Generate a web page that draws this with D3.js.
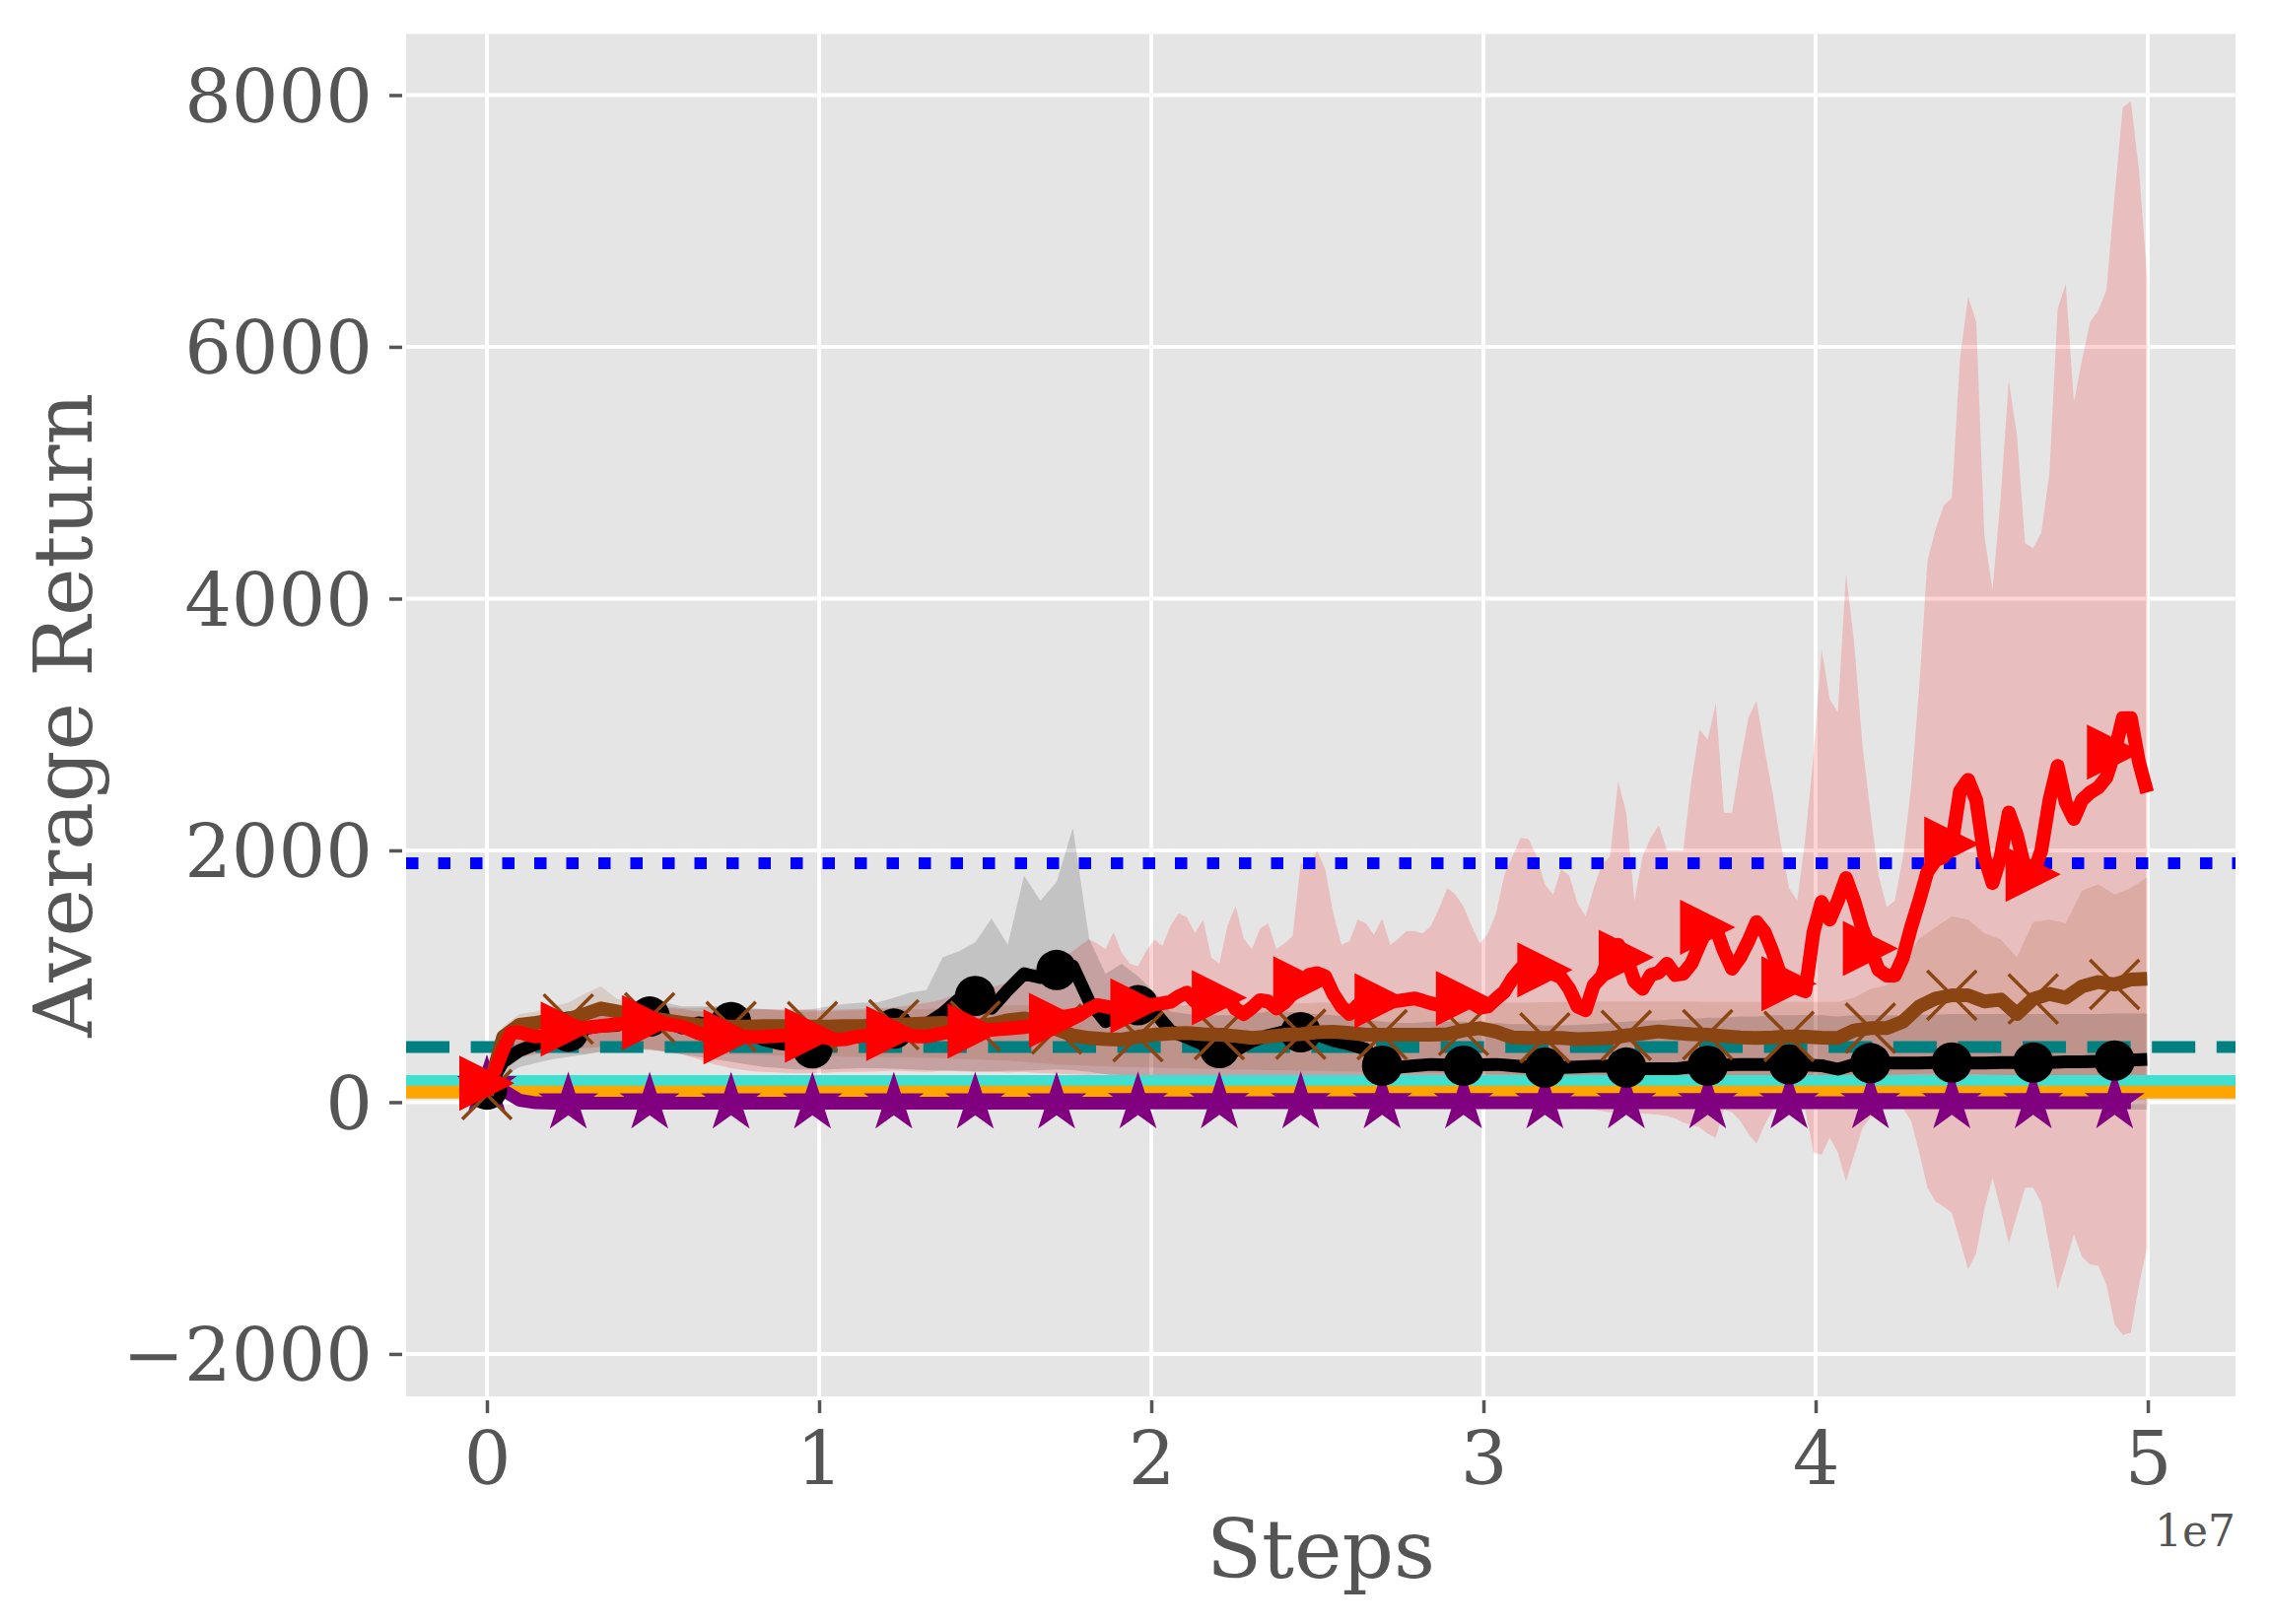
<!DOCTYPE html>
<html>
<head>
<meta charset="utf-8">
<title>Average Return vs Steps</title>
<style>
  body { margin: 0; background: #fff; }
</style>
</head>
<body>
<div class="chart"></div>
<script src="https://cdn.jsdelivr.net/npm/d3@7"></script>
<script>
// black / brown / purple logged every STEP steps (marker every 5 points),
// red logged twice as often (marker every 10 points)
var STEP = 490000;
var RED_STEP = 245000;

var xTicks = [0, 1e7, 2e7, 3e7, 4e7, 5e7];
var yTicks = [-2000, 0, 2000, 4000, 6000, 8000];

// constant reference returns (horizontal lines)
var baselineValues = [1898, 438, 171, 80];

var redMean = [150, 250, 420, 550, 555, 535, 522, 525, 545, 565,
  580, 588, 592, 598, 605, 612, 618, 625, 630, 635,
  632, 625, 620, 612, 600, 575, 548, 530, 525, 521,
  519, 519, 519, 519, 520, 524, 528, 532, 532, 532,
  532, 522, 508, 496, 500, 515, 525, 532, 538, 542,
  545, 540, 530, 522, 522, 535, 548, 558, 560, 562,
  565, 570, 575, 580, 585, 590, 597, 605, 620, 635,
  650, 680, 692, 700, 740, 771, 760, 748, 745, 755,
  765, 771, 775, 785, 797, 840, 870, 800, 745, 790,
  830, 840, 740, 700, 750, 810, 800, 745, 790, 860,
  940, 1010, 1025, 1000, 860, 760, 700, 770, 823, 815,
  805, 797, 805, 815, 823, 805, 785, 771, 790, 810,
  823, 790, 750, 760, 820, 875, 980, 1060, 1070, 1084,
  1050, 1020, 990, 900, 760, 730, 930, 1000, 1180, 1250,
  1150, 960, 900, 1010, 1030, 1100, 1010, 1020, 1100, 1250,
  1390, 1380, 1200, 1060, 1150, 1280, 1430, 1350, 1190, 1000,
  940, 905, 880, 1350, 1590, 1450, 1600, 1780, 1600, 1380,
  1220, 1050, 1006, 1006, 1150, 1390, 1600, 1830, 1920, 1950,
  2050, 2470, 2560, 2400, 1950, 1740, 1950, 2300, 2120, 1850,
  1810, 2000, 2400, 2670, 2380, 2250, 2400, 2460, 2500, 2580,
  2780, 3050, 3050, 2700, 2460];
var redUpper = [200, 380, 520, 600, 660, 670, 680, 690, 700, 710,
  720, 725, 730, 735, 740, 745, 750, 755, 760, 760,
  760, 755, 750, 745, 740, 730, 720, 715, 710, 715,
  720, 725, 730, 735, 738, 740, 740, 740, 738, 735,
  733, 730, 733, 735, 738, 740, 742, 745, 748, 750,
  755, 760, 770, 780, 790, 800, 820, 840, 860, 870,
  885, 900, 915, 930, 950, 980, 1010, 1050, 1100, 1150,
  1170, 1162, 1200, 1250, 1293, 1260, 1215, 1350, 1188, 1100,
  1080, 1200, 1293, 1241, 1400, 1500, 1470, 1345, 1450, 1150,
  1100, 1400, 1560, 1300, 1215, 1380, 1420, 1215, 1260, 1320,
  1900, 1860, 2000, 1850, 1500, 1250, 1280, 1450, 1420, 1330,
  1460, 1250, 1300, 1360, 1360, 1340, 1400, 1540, 1700, 1650,
  1554, 1400, 1260, 1340, 1500, 1800, 1950, 2100, 2090, 1950,
  1730, 1650, 1850, 1800, 1580, 1480, 1700, 1890, 1950, 2550,
  2300, 1600, 1950, 2100, 2200, 2000, 2000, 2000, 2550, 2960,
  2880, 3170, 2300, 2300, 2700, 3050, 3190, 2800, 2450, 2050,
  1700, 1600, 2100, 2750, 3600, 3200, 3100, 4200, 3650, 2850,
  2300, 1800, 1550, 1600, 1950, 2500, 3300, 4300, 4550, 4740,
  4800, 5900, 6400, 6200, 4500, 4070, 4800, 5730, 5300, 4440,
  4400, 4525, 5000, 6300, 6500, 5560, 5900, 6200, 6290, 6450,
  7200, 7900, 7950, 7400, 6550];
var redLower = [100, 180, 250, 300, 350, 365, 380, 390, 400, 410,
  420, 425, 430, 435, 440, 440, 440, 435, 430, 425,
  420, 410, 400, 390, 380, 360, 340, 320, 300, 285,
  270, 260, 250, 245, 240, 238, 235, 232, 230, 230,
  230, 232, 235, 238, 240, 240, 240, 242, 245, 248,
  250, 248, 245, 242, 240, 245, 250, 248, 245, 242,
  240, 240, 240, 238, 235, 238, 240, 235, 230, 228,
  225, 222, 220, 218, 215, 218, 220, 218, 215, 212,
  210, 205, 200, 195, 190, 185, 180, 175, 170, 165,
  160, 155, 150, 145, 140, 130, 120, 110, 100, 90,
  80, 70, 60, 50, 40, 35, 30, 25, 20, 15,
  10, 5, 0, 0, 0, -5, -10, -15, -20, -25,
  -30, -25, -20, -25, -30, -35, -40, -45, -50, -45,
  -40, -50, -60, -55, -50, -55, -60, -70, -80, -75,
  -70, -80, -90, -95, -100, -110, -130, -160, -180, -200,
  -250, -285, -60, -80, -150, -250, -330, -180, -60, -50,
  -50, -55, -60, -400, -420, -280, -400, -630, -420, -210,
  -120, -61, -55, -50, -50, -150, -400, -680, -790, -830,
  -880, -1100, -1330, -1200, -850, -600, -850, -1120, -900, -680,
  -680, -800, -1150, -1490, -1280, -1050, -1230, -1290, -1300, -1450,
  -1764, -1850, -1830, -1450, -1150];

var blackMean = [100, 320, 410, 460, 530, 560, 585, 605, 610, 660,
  680, 640, 590, 630, 615, 636, 558, 495, 465, 448,
  428, 500, 545, 565, 584, 584, 595, 620, 705, 818,
  844, 745, 890, 1020, 990, 1050, 1080, 800, 640, 695,
  770, 718, 565, 515, 460, 430, 410, 484, 530, 560,
  555, 536, 490, 460, 420, 290, 278, 290, 300, 295,
  290, 298, 300, 290, 280, 275, 275, 280, 285, 288,
  275, 265, 265, 265, 280, 290, 295, 300, 300, 300,
  300, 295, 290, 262, 300, 310, 310, 310, 310, 315,
  315, 310, 310, 315, 315, 315, 315, 320, 320, 325,
  330, 335, 340];
var blackUpper = [150, 420, 560, 650, 700, 720, 740, 760, 770, 800,
  810, 790, 760, 760, 760, 760, 750, 740, 730, 730,
  740, 760, 780, 790, 792, 830, 870, 890, 1150, 1200,
  1270, 1460, 1250, 1800, 1600, 1750, 2180, 1300, 1020, 1100,
  1000, 875, 720, 700, 690, 690, 690, 700, 720, 720,
  710, 700, 690, 680, 660, 640, 630, 630, 640, 640,
  640, 630, 630, 620, 620, 610, 610, 614, 620, 630,
  640, 650, 650, 660, 660, 670, 670, 680, 680, 690,
  690, 692, 690, 680, 690, 690, 690, 690, 695, 695,
  700, 700, 700, 700, 700, 700, 700, 700, 700, 700,
  705, 705, 705];
var blackLower = [50, 200, 280, 310, 340, 360, 380, 400, 410, 420,
  420, 400, 380, 360, 340, 320, 300, 280, 270, 260,
  260, 260, 265, 270, 270, 265, 260, 255, 250, 250,
  245, 245, 250, 250, 255, 260, 255, 240, 220, 200,
  190, 180, 170, 160, 150, 140, 130, 130, 120, 110,
  100, 90, 80, 70, 50, 20, 0, -10, -20, -20,
  -20, -25, -30, -30, -35, -35, -40, -40, -40, -45,
  -45, -45, -50, -50, -50, -50, -50, -50, -50, -50,
  -50, -50, -50, -50, -55, -55, -55, -55, -55, -55,
  -60, -60, -60, -60, -60, -60, -60, -60, -60, -60,
  -60, -60, -60];

var brownMean = [60, 520, 615, 630, 650, 660, 700, 745, 720, 690,
  670, 650, 630, 615, 605, 600, 600, 605, 605, 600,
  600, 600, 605, 605, 610, 615, 620, 625, 630, 620,
  605, 620, 650, 665, 640, 580, 530, 510, 500, 497,
  520, 536, 545, 549, 540, 536, 525, 510, 520, 535,
  540, 555, 560, 550, 536, 536, 536, 536, 536, 540,
  570, 588, 560, 515, 510, 510, 510, 500, 505, 510,
  530, 545, 562, 550, 540, 536, 525, 515, 510, 515,
  523, 520, 512, 510, 570, 588, 588, 640, 760, 823,
  849, 849, 800, 815, 700, 820, 860, 830, 920, 954,
  935, 975, 980];
var brownUpper = [100, 600, 700, 720, 760, 790, 860, 920, 820, 790,
  770, 760, 750, 750, 760, 750, 740, 740, 730, 720,
  720, 720, 725, 730, 730, 735, 740, 740, 745, 750,
  750, 760, 770, 770, 760, 750, 740, 740, 745, 750,
  760, 770, 770, 770, 770, 775, 775, 780, 780, 785,
  785, 790, 790, 790, 790, 790, 790, 790, 790, 790,
  790, 790, 790, 790, 790, 795, 797, 797, 800, 800,
  800, 800, 800, 800, 800, 797, 797, 797, 797, 797,
  797, 797, 797, 797, 830, 900, 927, 1100, 1300, 1390,
  1476, 1449, 1340, 1293, 1150, 1430, 1450, 1420, 1680, 1730,
  1650, 1700, 1788];
var brownLower = [20, 350, 420, 430, 420, 400, 380, 400, 420, 420,
  410, 400, 395, 390, 385, 380, 380, 375, 370, 370,
  365, 365, 360, 360, 360, 355, 355, 350, 350, 345,
  340, 335, 330, 320, 310, 300, 295, 290, 285, 280,
  280, 275, 270, 270, 265, 265, 260, 260, 255, 255,
  250, 250, 245, 245, 240, 240, 235, 235, 230, 230,
  225, 225, 220, 220, 215, 215, 210, 210, 205, 205,
  200, 200, 200, 200, 200, 200, 200, 200, 200, 200,
  200, 200, 200, 200, 205, 210, 215, 220, 225, 230,
  230, 225, 220, 215, 200, 210, 200, 190, 180, 175,
  170, 165, 160];

var purpleMean = [130, 95, 15, -5, -8, -8, -8, -8, -8, -8,
  -8, -8, -8, -8, -8, -8, -8, -8, -8, -8,
  -8, -8, -8, -8, -8, -8, -8, -8, -8, -8,
  -8, -8, -8, -8, -8, -8, -8, -8, -8, -8,
  -6, -6, -6, -6, -6, -5, -5, -5, -5, -5,
  -5, -5, -5, -5, -5, -5, -5, -5, -5, -5,
  -5, -5, -5, -5, -5, -5, -5, -5, -5, -5,
  -5, -5, -5, -5, -5, -5, -5, -5, -5, -5,
  -5, -5, -5, -5, -5, -5, -5, -5, -5, -5,
  -5, -5, -5, -5, -5, -5, -5, -5, -5, -5,
  -5, -5];

var W = 2303, H = 1648;
var plot = { left: 412, right: 2268, top: 34.5, bottom: 1417 };

var svg = d3.select("div.chart").append("svg")
  .attr("width", W)
  .attr("height", H);

var x = d3.scaleLinear().domain([-0.2433e7, 5.264e7]).range([plot.left, plot.right]);
var y = d3.scaleLinear().domain([-2337, 8485]).range([plot.bottom, plot.top]);

/* panel + grid */
svg.append("rect")
  .attr("x", plot.left).attr("y", plot.top)
  .attr("width", plot.right - plot.left).attr("height", plot.bottom - plot.top)
  .attr("fill", "#e5e5e5");

svg.append("g").selectAll("line").data(xTicks).enter().append("line")
  .attr("x1", function(d){ return x(d); }).attr("x2", function(d){ return x(d); })
  .attr("y1", plot.top).attr("y2", plot.bottom)
  .attr("stroke", "#fff").attr("stroke-width", 4);
svg.append("g").selectAll("line").data(yTicks).enter().append("line")
  .attr("x1", plot.left).attr("x2", plot.right)
  .attr("y1", function(d){ return y(d); }).attr("y2", function(d){ return y(d); })
  .attr("stroke", "#fff").attr("stroke-width", 4);

svg.append("clipPath").attr("id", "panel").append("rect")
  .attr("x", plot.left).attr("y", plot.top)
  .attr("width", plot.right - plot.left).attr("height", plot.bottom - plot.top);
var panel = svg.append("g").attr("clip-path", "url(#panel)");

/* shaded bands */
function band(lower, upper, step, color, alpha) {
  var area = d3.area()
    .x(function(d, i){ return x(i * step); })
    .y0(function(d, i){ return y(lower[i]); })
    .y1(function(d){ return y(d); });
  panel.append("path").datum(upper)
    .attr("d", area)
    .attr("fill", color).attr("fill-opacity", alpha);
}
band(redLower, redUpper, RED_STEP, "#ff0000", 0.17);
band(blackLower, blackUpper, STEP, "#000000", 0.15);
band(brownLower, brownUpper, STEP, "#8b4513", 0.15);

/* reference lines */
var baselineStyles = [
  { color: "#0000ff", width: 12, dash: "12.5,20" },
  { color: "#008080", width: 12, dash: "44,21.6" },
  { color: "#40e0d0", width: 11, dash: null },
  { color: "#ffa500", width: 13, dash: null }
];
baselineValues.forEach(function(v, k) {
  var s = baselineStyles[k];
  panel.append("line")
    .attr("x1", plot.left).attr("x2", plot.right)
    .attr("y1", y(v)).attr("y2", y(v))
    .attr("stroke", s.color).attr("stroke-width", s.width)
    .attr("stroke-dasharray", s.dash);
});

/* mean curves with markers */
function series(values, step, every, color, width, marker) {
  var line = d3.line()
    .x(function(d, i){ return x(i * step); })
    .y(function(d){ return y(d); });
  panel.append("path").datum(values)
    .attr("d", line)
    .attr("fill", "none").attr("stroke", color)
    .attr("stroke-width", width).attr("stroke-linejoin", "round");

  var pts = values.map(function(d, i){ return [i * step, d]; })
    .filter(function(d, i){ return i % every === 0; });
  var m = panel.append("g").selectAll("path").data(pts).enter().append("path")
    .attr("transform", function(d){ return "translate(" + x(d[0]) + "," + y(d[1]) + ")"; })
    .attr("d", marker.path);
  if (marker.stroke) {
    m.attr("fill", "none").attr("stroke", color).attr("stroke-width", marker.stroke);
  } else {
    m.attr("fill", color);
  }
}

var star = { path: d3.symbol().type(d3.symbolStar).size(1150)() };
var circle = { path: d3.symbol().type(d3.symbolCircle).size(1320)() };
var cross = { path: "M-25,-25L25,25M-25,25L25,-25", stroke: 3.5 };
var triangle = { path: "M-28,-28L28,0L-28,28Z" };

series(purpleMean, STEP, 5, "#800080", 13, star);
series(blackMean, STEP, 5, "#000000", 13, circle);
series(brownMean, STEP, 5, "#8b4513", 14, cross);
series(redMean, RED_STEP, 10, "#ff0000", 14, triangle);

/* axes */
var xAxis = d3.axisBottom(x)
  .tickValues(xTicks)
  .tickFormat(function(d){ return d / 1e7; })
  .tickSize(13).tickPadding(19);
svg.append("g")
  .attr("transform", "translate(0,1421)")
  .call(xAxis)
  .attr("font-family", "DejaVu Serif").attr("font-size", 75).attr("color", "#555")
  .call(function(g){ g.select(".domain").remove(); })
  .call(function(g){ g.selectAll(".tick line").attr("stroke-width", 3.5); });

var yAxis = d3.axisLeft(y)
  .tickValues(yTicks)
  .tickFormat(d3.format("d"))
  .tickSize(13).tickPadding(17);
svg.append("g")
  .attr("transform", "translate(408,0)")
  .call(yAxis)
  .attr("font-family", "DejaVu Serif").attr("font-size", 75).attr("color", "#555")
  .call(function(g){ g.select(".domain").remove(); })
  .call(function(g){ g.selectAll(".tick line").attr("stroke-width", 3.5); })
  .call(function(g){ g.selectAll(".tick text").attr("dy", "0.36em"); });

/* labels */
svg.append("text")
  .attr("x", (plot.left + plot.right) / 2).attr("y", 1601)
  .attr("text-anchor", "middle")
  .attr("font-family", "DejaVu Serif").attr("font-size", 82).attr("fill", "#555")
  .text("Steps");

svg.append("text")
  .attr("transform", "translate(93," + (plot.top + plot.bottom) / 2 + ") rotate(-90)")
  .attr("text-anchor", "middle")
  .attr("font-family", "DejaVu Serif").attr("font-size", 82).attr("fill", "#555")
  .text("Average Return");

svg.append("text")
  .attr("x", plot.right).attr("y", 1569)
  .attr("text-anchor", "end")
  .attr("font-family", "DejaVu Serif").attr("font-size", 44).attr("fill", "#555")
  .text("1e7");
</script>
</body>
</html>
